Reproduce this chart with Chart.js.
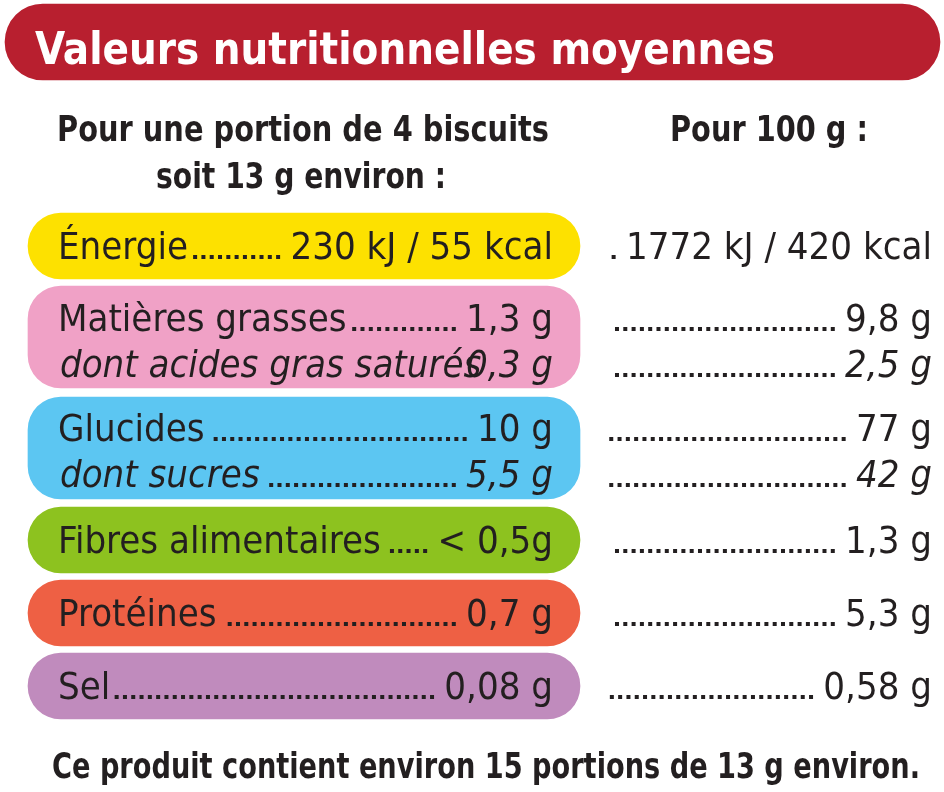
<!DOCTYPE html>
<html><head><meta charset="utf-8">
<script src="https://cdn.jsdelivr.net/npm/chart.js@4"></script>
<style>html,body{margin:0;padding:0;background:#fff}#w{width:944px;height:792px}</style>
</head><body><div id="w"><canvas id="c"></canvas></div>
<script>
const title = "Valeurs nutritionnelles moyennes";
const headPortion = ["Pour une portion de 4 biscuits", "soit 13 g environ :"];
const head100 = "Pour 100 g :";
const footer = "Ce produit contient environ 15 portions de 13 g environ.";
const categories = ["Énergie","Matières grasses","dont acides gras saturés","Glucides","dont sucres","Fibres alimentaires","Protéines","Sel"];
const italicRows = [false,false,true,false,true,false,false,false];
const perPortion = ["230 kJ / 55 kcal","1,3 g","0,3 g","10 g","5,5 g","< 0,5g","0,7 g","0,08 g"];
const per100 = ["1772 kJ / 420 kcal","9,8 g","2,5 g","77 g","42 g","1,3 g","5,3 g","0,58 g"];
const groups = ["Énergie","Matières grasses","Glucides","Fibres alimentaires","Protéines","Sel"];
const groupColors = ["#fde100","#f0a1c6","#5cc6f2","#8dc21f","#ee6044","#c08bbd"];
// layout
const groupCenters = [246,337,448,540,613,686];
const groupHeights = [66,102,102,66,66,66];
const lineY = [246,318,364,428,474,540,613,686];

const F = "'Liberation Sans Narrow','DejaVu Sans Condensed',sans-serif";
const dark = "#231f20";
function fit(ctx,t,x,y,w,font){
  ctx.save();ctx.font=font;const m=ctx.measureText(t).width;const s=w/m;
  ctx.translate(x,y);ctx.scale(s,1);ctx.textAlign='left';ctx.fillText(t,0,0);ctx.restore();
}
function txt(ctx,t,x,y,font,align){ctx.font=font;ctx.textAlign=align;ctx.fillText(t,x,y);return ctx.measureText(t).width;}
function dots(ctx,x1,x2,y){ctx.fillStyle=dark;const n=Math.floor((x2-x1)/8.3);const st=x2-n*8.3;for(let k=0;k<n;k++){ctx.fillRect(st+k*8.3,y-4,4,4);}}
const textPlugin={id:'txt',afterDatasetsDraw(ch){
  const c=ch.ctx;c.save();c.textBaseline='alphabetic';
  c.fillStyle='#fff';fit(c,title,35,64,740,"bold 44px "+F);
  c.fillStyle=dark;
  fit(c,headPortion[0],57,141,492,"bold 36px "+F);
  fit(c,headPortion[1],156,188,290,"bold 36px "+F);
  fit(c,head100,670,141,198,"bold 36px "+F);
  fit(c,footer,52,778,868,"bold 36px "+F);
  categories.forEach((t,i)=>{
    const y=lineY[i]+13; const it=italicRows[i]?"italic ":"";
    const fnt=it+"38px "+F;
    c.fillStyle=dark;
    const lx=italicRows[i]?60:58;
    const lw=txt(c,t,lx,y,fnt,'left');
    const vw=txt(c,perPortion[i],553,y,fnt,'right');
    dots(c,lx+lw+4,553-vw-6,y);
    const rw=txt(c,per100[i],932,y,fnt,'right');
    dots(c,608,932-rw-6,y);
  });
  c.restore();
}};
const data=groups.map((g,i)=>({x:[28,580],y:groupCenters[i]}));
new Chart(document.getElementById('c'),{
  type:'bar',
  data:{datasets:[
    {label:'header',data:[{x:[5,940],y:42}],backgroundColor:'#b81f2f',barThickness:76,borderRadius:38,borderSkipped:false},
    ...groups.map((g,i)=>({label:g,data:[data[i]],backgroundColor:groupColors[i],barThickness:groupHeights[i],borderRadius:33,borderSkipped:false}))
  ]},
  options:{indexAxis:'y',responsive:true,maintainAspectRatio:false,animation:false,
    layout:{padding:0},
    plugins:{legend:{display:false},tooltip:{enabled:false}},
    scales:{x:{type:'linear',min:0,max:944,display:false,offset:false},
            y:{type:'linear',min:0,max:792,reverse:true,display:false,offset:false}},
    datasets:{bar:{grouped:false}}
  },
  plugins:[textPlugin]
});
</script></body></html>
